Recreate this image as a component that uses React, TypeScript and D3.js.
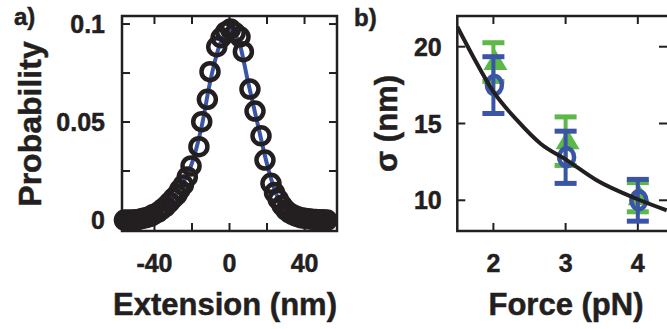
import React from "react";
import * as d3 from "d3";

// Panel a: extension histogram (nm, probability)
const histX = [-56, -54, -52, -50, -48, -46, -44, -42, -40.6, -38, -36, -34, -32, -30, -28, -26.5, -24.6, -22.5, -20.5, -16.3, -14.8, -11.8, -10.4, -6.8, -4.5, -2, 0.5, 3, 5.6, 7.4, 10.9, 13.6, 16.8, 18.9, 22.1, 24, 26, 28, 30, 32, 34, 36, 38, 40, 42, 44, 46, 48, 50, 52];
const histP = [0, 0, 0, 0.0002, 0.0004, 0.0009, 0.0013, 0.002, 0.0028, 0.004, 0.0055, 0.007, 0.009, 0.0111, 0.013, 0.0155, 0.0179, 0.022, 0.0276, 0.0374, 0.0502, 0.0616, 0.0757, 0.0884, 0.093, 0.096, 0.0975, 0.0955, 0.0935, 0.0859, 0.0668, 0.0556, 0.043, 0.0306, 0.0187, 0.014, 0.0105, 0.0075, 0.0052, 0.0036, 0.0026, 0.0018, 0.0012, 0.0009, 0.0006, 0.0004, 0.0003, 0.0002, 0.0001, 0];
// Gaussian fit line
const fitAX = [-57, -45, -40, -35, -30, -25, -20, -15, -10, -5, 0, 5, 10, 15, 20, 25, 30, 35, 40, 45, 57];
const fitAP = [0, 0.0012, 0.0028, 0.0058, 0.011, 0.0185, 0.029, 0.047, 0.072, 0.09, 0.097, 0.091, 0.07, 0.049, 0.0285, 0.013, 0.0055, 0.0022, 0.001, 0.0004, 0];
const aXTicks = [-40, -20, 0, 20, 40];
const aXLabels = ["-40", "", "0", "", "40"];
const aYTicks = [0, 0.025, 0.05, 0.075, 0.1];
const aYLabels = ["0", "", "0.05", "", "0.1"];

// Panel b: sigma vs force
const forces = [2, 3, 4];
const sigmaBlue = [17.5, 12.8, 10.0];
const errBlue = [1.85, 1.7, 1.36];
const sigmaGreen = [19.0, 13.85, 10.2];
const errGreen = [1.26, 1.58, 0.95];
const fitBF = [1.5, 1.72, 2.0, 2.33, 2.65, 3.02, 3.43, 3.98, 4.4];
const fitBS = [21.3, 19.35, 17.07, 15.2, 13.7, 12.6, 11.3, 10.1, 9.35];
const bXTicks = [2, 3, 4];
const bYTicks = [10, 15, 20];

const INK = "#231f20";
const BLUE = "#3a55a6";
const GREEN = "#5cb947";
const FONT = "'Liberation Sans', Arial, Helvetica, sans-serif";

export default function App() {
  // Panel a scales
  const ax = d3.scaleLinear().domain([-57.3, 57.3]).range([122, 337]);
  const ay = d3.scaleLinear().domain([-0.0056, 0.1041]).range([231, 16]);
  const aLine = d3
    .line<number>()
    .x((_, i) => ax(fitAX[i]))
    .y((d) => ay(d))
    .curve(d3.curveMonotoneX);

  // Panel b scales
  const bx = d3.scaleLinear().domain([1.5, 4.4]).range([457.3, 666.7]);
  const by = d3.scaleLinear().domain([8, 22]).range([231, 16]);
  const bLine = d3
    .line<number>()
    .x((_, i) => bx(fitBF[i]))
    .y((d) => by(d))
    .curve(d3.curveMonotoneX);

  const tickLen = 8;
  const capW = 22;
  const tri = (cx: number, cy: number) => {
    const w = 24, h = 20;
    return `M${cx},${cy - h * 0.6} L${cx + w / 2},${cy + h * 0.4} L${cx - w / 2},${cy + h * 0.4} Z`;
  };

  return (
    <svg width={667} height={329} style={{ position: "absolute", left: 0, top: 0, background: "#fff" }} fontFamily={FONT} fontWeight="bold" fill={INK}>
      <defs>
        <clipPath id="clipB">
          <rect x={457.3} y={16} width={215} height={215} />
        </clipPath>
      </defs>
      {/* ---------------- Panel a ---------------- */}
      <g stroke={INK} strokeWidth={0.5}>
        <text x={14} y={25} fontSize={24}>a)</text>
      </g>
      {aXTicks.map((t, i) => (
        <g key={"axt" + i} stroke={INK} strokeWidth={2}>
          <line x1={ax(t)} x2={ax(t)} y1={231} y2={231 - tickLen} />
          <line x1={ax(t)} x2={ax(t)} y1={16} y2={16 + tickLen} />
        </g>
      ))}
      {aYTicks.map((t, i) => (
        <g key={"ayt" + i} stroke={INK} strokeWidth={2}>
          <line x1={122} x2={122 + tickLen} y1={ay(t)} y2={ay(t)} />
          <line x1={337} x2={337 - tickLen} y1={ay(t)} y2={ay(t)} />
        </g>
      ))}
      <path d={aLine(fitAP) || ""} fill="none" stroke={BLUE} strokeWidth={4} />
      {histX.map((x, i) => (
        <circle key={"h" + i} cx={ax(x)} cy={ay(histP[i])} r={8.5} fill="none" stroke={INK} strokeWidth={4.5} />
      ))}
      <rect x={122} y={16} width={215} height={215} fill="none" stroke={INK} strokeWidth={2.5} />
      <g stroke={INK} strokeWidth={0.5}>
        {aYTicks.map((t, i) =>
          aYLabels[i] ? (
            <text key={"ayl" + i} x={105} y={ay(t)} dy="0.36em" textAnchor="end" fontSize={25}>
              {aYLabels[i]}
            </text>
          ) : null
        )}
        {aXTicks.map((t, i) =>
          aXLabels[i] ? (
            <text key={"axl" + i} x={ax(t)} y={272} textAnchor="middle" fontSize={25}>
              {aXLabels[i]}
            </text>
          ) : null
        )}
        <text x={225} y={315} textAnchor="middle" fontSize={31}>Extension (nm)</text>
        <text transform="translate(41,124) rotate(-90)" textAnchor="middle" fontSize={32}>Probability</text>
      </g>

      {/* ---------------- Panel b ---------------- */}
      <g stroke={INK} strokeWidth={0.5}>
        <text x={354} y={26} fontSize={24}>b)</text>
      </g>
      {bXTicks.map((t, i) => (
        <g key={"bxt" + i} stroke={INK} strokeWidth={2}>
          <line x1={bx(t)} x2={bx(t)} y1={231} y2={231 - tickLen} />
          <line x1={bx(t)} x2={bx(t)} y1={16} y2={16 + tickLen} />
        </g>
      ))}
      {bYTicks.map((t, i) => (
        <g key={"byt" + i} stroke={INK} strokeWidth={2}>
          <line x1={457.3} x2={457.3 + tickLen} y1={by(t)} y2={by(t)} />
          <line x1={667} x2={667 - tickLen} y1={by(t)} y2={by(t)} />
        </g>
      ))}
      {forces.map((f, i) => (
        <g key={"g" + i}>
          <line x1={bx(f)} x2={bx(f)} y1={by(sigmaGreen[i] - errGreen[i])} y2={by(sigmaGreen[i] + errGreen[i])} stroke={GREEN} strokeWidth={4} />
          <line x1={bx(f) - capW / 2} x2={bx(f) + capW / 2} y1={by(sigmaGreen[i] + errGreen[i])} y2={by(sigmaGreen[i] + errGreen[i])} stroke={GREEN} strokeWidth={5} />
          <line x1={bx(f) - capW / 2} x2={bx(f) + capW / 2} y1={by(sigmaGreen[i] - errGreen[i])} y2={by(sigmaGreen[i] - errGreen[i])} stroke={GREEN} strokeWidth={5} />
          <path d={tri(bx(f) + 2, by(sigmaGreen[i]))} fill={GREEN} />
        </g>
      ))}
      {forces.map((f, i) => (
        <g key={"b" + i}>
          <line x1={bx(f)} x2={bx(f)} y1={by(sigmaBlue[i] - errBlue[i])} y2={by(sigmaBlue[i] + errBlue[i])} stroke={BLUE} strokeWidth={4} />
          <line x1={bx(f) - capW / 2} x2={bx(f) + capW / 2} y1={by(sigmaBlue[i] + errBlue[i])} y2={by(sigmaBlue[i] + errBlue[i])} stroke={BLUE} strokeWidth={5} />
          <line x1={bx(f) - capW / 2} x2={bx(f) + capW / 2} y1={by(sigmaBlue[i] - errBlue[i])} y2={by(sigmaBlue[i] - errBlue[i])} stroke={BLUE} strokeWidth={5} />
          <ellipse cx={bx(f) + 1} cy={by(sigmaBlue[i])} rx={7.5} ry={9} fill="none" stroke={BLUE} strokeWidth={4.5} />
        </g>
      ))}
      <path d={bLine(fitBS) || ""} fill="none" stroke={INK} strokeWidth={4} clipPath="url(#clipB)" />
      <path d={`M667,16 L457.3,16 L457.3,231 L667,231`} fill="none" stroke={INK} strokeWidth={2.5} />
      <g stroke={INK} strokeWidth={0.5}>
        {bYTicks.map((t, i) => (
          <text key={"byl" + i} x={441.7} y={by(t)} dy="0.36em" textAnchor="end" fontSize={25}>
            {t}
          </text>
        ))}
        {bXTicks.map((t, i) => (
          <text key={"bxl" + i} x={bx(t)} y={272} textAnchor="middle" fontSize={25}>
            {t}
          </text>
        ))}
        <text x={566} y={315} textAnchor="middle" fontSize={31}>Force (pN)</text>
        <text transform="translate(397,123.5) rotate(-90)" textAnchor="middle" fontSize={31}>σ (nm)</text>
      </g>
    </svg>
  );
}
